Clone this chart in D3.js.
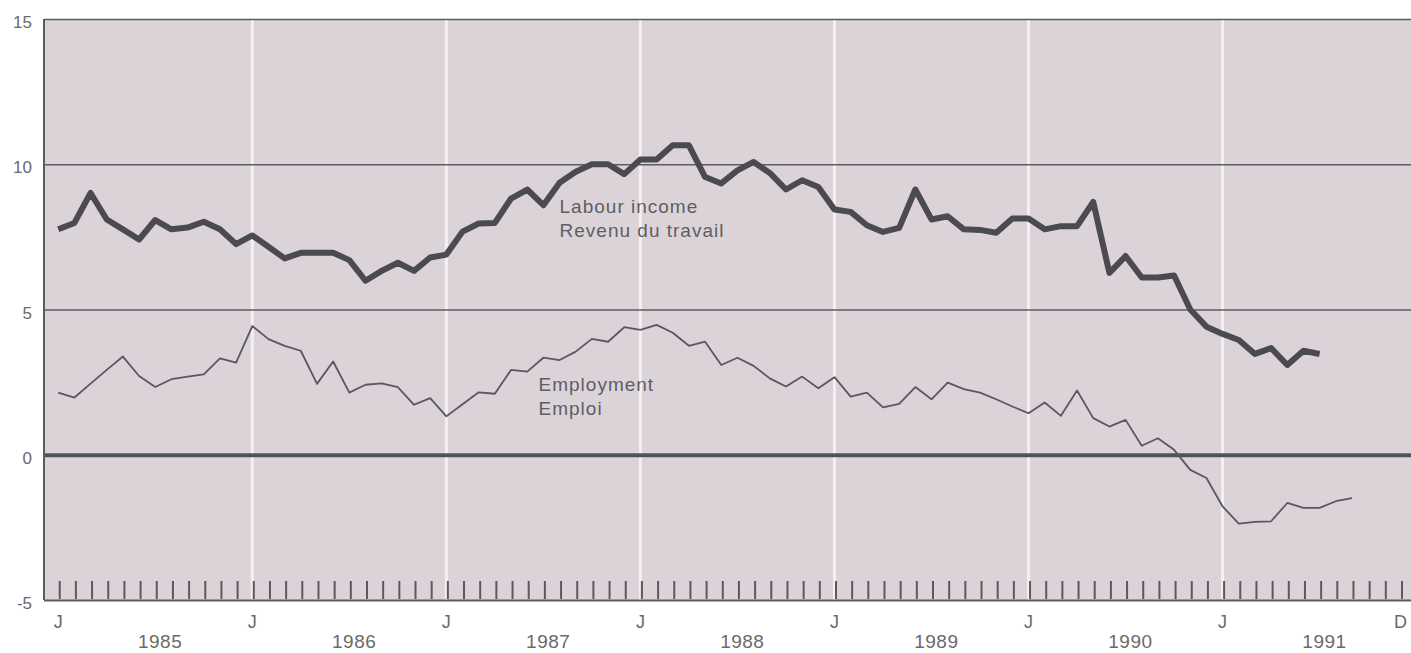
<!DOCTYPE html>
<html>
<head>
<meta charset="utf-8">
<script src="https://cdn.jsdelivr.net/npm/d3@7"></script>
<style>
  html, body { margin: 0; padding: 0; background: #ffffff; }
  svg { display: block; }
  text { font-family: "Liberation Sans", Arial, Helvetica, sans-serif; }
</style>
</head>
<body>
<svg id="chart" width="1411" height="653"></svg>
<script>
// ---- Data (monthly, starting January 1985) ----
const startYear = 1985;
const monthCount = 84; // Jan 1985 .. Dec 1991

const labourIncome = [
  7.76, 7.98, 9.01, 8.10, 7.76, 7.41, 8.08, 7.76, 7.82, 8.02, 7.76, 7.25,
  7.55, 7.16, 6.76, 6.95, 6.95, 6.95, 6.70, 5.99, 6.33, 6.61, 6.33, 6.79,
  6.89, 7.68, 7.96, 7.98, 8.82, 9.13, 8.59, 9.36, 9.74, 10.00, 10.00, 9.66,
  10.16, 10.16, 10.65, 10.65, 9.56, 9.34, 9.79, 10.08, 9.70, 9.13, 9.45, 9.22,
  8.44, 8.36, 7.90, 7.67, 7.81, 9.13, 8.10, 8.21, 7.76, 7.74, 7.64, 8.13,
  8.13, 7.76, 7.87, 7.87, 8.70, 6.26, 6.84, 6.10, 6.10, 6.17, 5.00, 4.41,
  4.16, 3.95, 3.47, 3.67, 3.09, 3.58, 3.47
];

const employment = [
  2.14, 1.97, 2.45, 2.92, 3.38, 2.71, 2.33, 2.60, 2.69, 2.77, 3.32, 3.17,
  4.43, 3.98, 3.75, 3.58, 2.44, 3.21, 2.14, 2.41, 2.46, 2.33, 1.72, 1.95,
  1.32, 1.74, 2.15, 2.10, 2.92, 2.86, 3.34, 3.26, 3.55, 3.99, 3.89, 4.39,
  4.30, 4.47, 4.20, 3.75, 3.89, 3.09, 3.34, 3.06, 2.63, 2.35, 2.69, 2.29,
  2.67, 2.00, 2.14, 1.63, 1.75, 2.33, 1.91, 2.48, 2.26, 2.14, 1.91, 1.66,
  1.43, 1.80, 1.34, 2.21, 1.26, 0.97, 1.20, 0.31, 0.57, 0.17, -0.52, -0.80,
  -1.78, -2.37, -2.31, -2.29, -1.66, -1.83, -1.83, -1.60, -1.49
];

const yTicks = [-5, 0, 5, 10, 15];
const monthLabels = ["J", "J", "J", "J", "J", "J", "J", "D"];
const monthLabelIdx = [0, 12, 24, 36, 48, 60, 72, 83];
const yearLabels = ["1985", "1986", "1987", "1988", "1989", "1990", "1991"];

const seriesLabels = [
  { lines: ["Labour income", "Revenu du travail"], at: [31.0, 8.32] },
  { lines: ["Employment", "Emploi"], at: [29.7, 2.21] }
];

// ---- Layout ----
const svg = d3.select("#chart");
const plot = { left: 44, right: 1411, top: 19, bottom: 600 };

const x = d3.scaleLinear().domain([-0.88, 83.65]).range([plot.left, plot.right]);
const y = d3.scaleLinear().domain([-5, 15]).range([plot.bottom, plot.top]);

// background
svg.append("rect")
  .attr("x", plot.left).attr("y", plot.top)
  .attr("width", plot.right - plot.left).attr("height", plot.bottom - plot.top)
  .attr("fill", "#dbd3d8");

// white vertical lines at each January
const janIdx = d3.range(12, monthCount, 12);
svg.append("g").selectAll("line").data(janIdx).join("line")
  .attr("x1", d => x(d)).attr("x2", d => x(d))
  .attr("y1", plot.top).attr("y2", plot.bottom)
  .attr("stroke", "#f4f0f2").attr("stroke-width", 3);

// horizontal gridlines
const yAxis = d3.axisLeft(y).tickValues(yTicks).tickSize(-(plot.right - plot.left)).tickFormat("");
const gy = svg.append("g").attr("transform", `translate(${plot.left},0)`).call(yAxis);
gy.select(".domain").remove();
gy.selectAll(".tick line")
  .attr("stroke", d => d === 0 ? "#50545a" : "#5c5c60")
  .attr("stroke-width", d => d === 0 ? 4 : (d === -5 ? 2 : 1.6));

// left border
svg.append("line")
  .attr("x1", plot.left).attr("x2", plot.left)
  .attr("y1", plot.top).attr("y2", plot.bottom)
  .attr("stroke", "#5c5c60").attr("stroke-width", 2);

// y tick labels
svg.append("g").selectAll("text").data(yTicks).join("text")
  .attr("x", 32).attr("y", d => y(d) + 9)
  .attr("text-anchor", "end")
  .attr("font-size", 17)
  .attr("fill", "#6a6a6a")
  .text(d => d);

// monthly ticks (inside, pointing up)
const xAxis = d3.axisTop(x).tickValues(d3.range(0, monthCount)).tickSize(18).tickFormat("");
const gx = svg.append("g").attr("transform", `translate(1,${plot.bottom - 1})`).call(xAxis);
gx.select(".domain").remove();
gx.selectAll(".tick line").attr("stroke", "#5a5a5e").attr("stroke-width", 2);

// month labels
svg.append("g").selectAll("text").data(monthLabels).join("text")
  .attr("x", (d, i) => x(monthLabelIdx[i]))
  .attr("y", 628)
  .attr("text-anchor", "middle")
  .attr("font-size", 18)
  .attr("fill", "#6a6a6a")
  .text(d => d);

// year labels
svg.append("g").selectAll("text").data(yearLabels).join("text")
  .attr("x", (d, i) => x(i * 12 + 6.3))
  .attr("y", 648)
  .attr("text-anchor", "middle")
  .attr("font-size", 19)
  .attr("letter-spacing", 0.5)
  .attr("fill", "#6a6a6a")
  .text(d => d);

// series lines
const line = d3.line().x((d, i) => x(i)).y(d => y(d));

svg.append("path").datum(employment)
  .attr("d", line)
  .attr("fill", "none")
  .attr("stroke", "#58585e")
  .attr("stroke-width", 1.8)
  .attr("stroke-linejoin", "round");

svg.append("path").datum(labourIncome)
  .attr("d", line)
  .attr("fill", "none")
  .attr("stroke", "#4a4a50")
  .attr("stroke-width", 6)
  .attr("stroke-linejoin", "round");

// series labels
seriesLabels.forEach(s => {
  const t = svg.append("text")
    .attr("x", x(s.at[0])).attr("y", y(s.at[1]))
    .attr("font-size", 19)
    .attr("letter-spacing", 1)
    .attr("fill", "#5e5e62");
  s.lines.forEach((l, k) => {
    t.append("tspan").attr("x", x(s.at[0])).attr("dy", k === 0 ? 0 : 24).text(l);
  });
});
</script>
</body>
</html>
